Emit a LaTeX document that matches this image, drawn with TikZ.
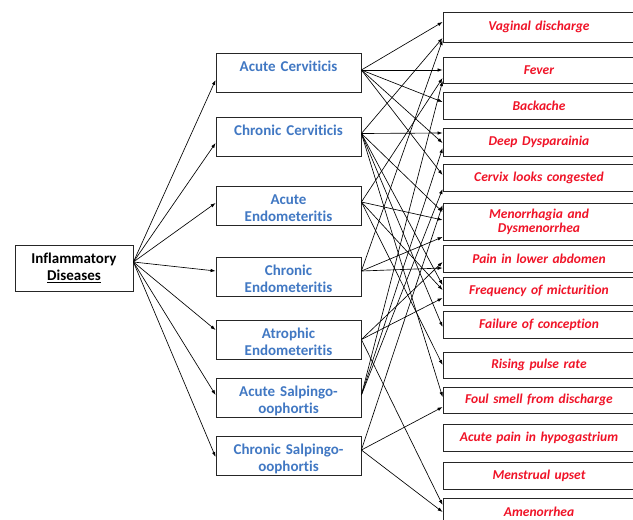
\documentclass[tikz,border=0pt]{standalone}
\usepackage{fontspec}
\setmainfont{Carlito}[Ligatures=NoCommon]
\usetikzlibrary{arrows.meta}
\definecolor{diseaseblue}{RGB}{65,120,195}
\definecolor{symptomred}{RGB}{240,20,40}
\begin{document}
\begin{tikzpicture}[x=1pt,y=-1pt,
  rootbox/.style={draw=black!85, line width=0.8pt, text width=118pt, align=center, inner sep=0pt, minimum height=46pt, font=\fontsize{15}{17}\selectfont\bfseries},
  diseasebox/.style={draw=black!85, line width=0.8pt, text width=145pt, align=center, inner sep=0pt, text height=18pt, text depth=21pt, text=diseaseblue, font=\fontsize{15}{17}\selectfont\bfseries},
  symptombox/.style={draw=black!85, line width=0.8pt, text width=192pt, align=center, inner sep=0pt, text=symptomred, font=\fontsize{13.5}{14}\selectfont\bfseries\itshape},
  conn/.style={-{Latex[length=5pt,width=3.5pt]}, line width=0.65pt}]
\path[use as bounding box, fill=white] (0,0) rectangle (633,520);
\node[rootbox] (id) at (74,268) {Inflammatory\\\underline{Diseases}};
\node[diseasebox] (acerv) at (288.5,73) {Acute Cerviticis};
\node[diseasebox] (ccerv) at (288.5,136.5) {Chronic Cerviticis};
\node[diseasebox] (aendo) at (288.5,205.5) {Acute\\Endometeritis};
\node[diseasebox] (cendo) at (288.5,276.5) {Chronic\\Endometeritis};
\node[diseasebox] (trendo) at (288.5,339.5) {Atrophic\\Endometeritis};
\node[diseasebox] (asalp) at (288.5,397.5) {Acute Salpingo-\\oophortis};
\node[diseasebox] (csalp) at (288.5,456) {Chronic Salpingo-\\oophortis};
\node[symptombox, minimum height=30pt] (vag) at (539,27) {Vaginal discharge};
\node[symptombox, minimum height=26pt] (fev) at (539,70) {Fever};
\node[symptombox, minimum height=27pt] (back) at (539,105.5) {Backache};
\node[symptombox, minimum height=28pt] (deep) at (539,142) {Deep Dysparainia};
\node[symptombox, minimum height=27pt] (cerv) at (539,177.5) {Cervix looks congested};
\node[symptombox, minimum height=37pt] (menor) at (539,221.5) {Menorrhagia and\\Dysmenorrhea};
\node[symptombox, minimum height=27pt] (pain) at (539,258.5) {Pain in lower abdomen};
\node[symptombox, minimum height=28pt] (freq) at (539,291) {Frequency of micturition};
\node[symptombox, minimum height=27pt] (fail) at (539,324.5) {Failure of conception};
\node[symptombox, minimum height=26pt] (rise) at (539,365) {Rising pulse rate};
\node[symptombox, minimum height=26pt] (foul) at (539,400) {Foul smell from discharge};
\node[symptombox, minimum height=27pt] (hypo) at (539,437.5) {Acute pain in hypogastrium};
\node[symptombox, minimum height=27pt] (mens) at (539,475.5) {Menstrual upset};
\node[symptombox, minimum height=27pt] (amen) at (539,511.5) {Amenorrhea};
\draw[conn] ([yshift=6pt]id.east) -- ([yshift=-7pt]acerv.west);
\draw[conn] ([yshift=6pt]id.east) -- ([yshift=-6.5pt]ccerv.west);
\draw[conn] ([yshift=6pt]id.east) -- ([yshift=2.5pt]aendo.west);
\draw[conn] ([yshift=6pt]id.east) -- ([yshift=5.5pt]cendo.west);
\draw[conn] ([yshift=6pt]id.east) -- ([yshift=9.5pt]trendo.west);
\draw[conn] ([yshift=6pt]id.east) -- ([yshift=2.5pt]asalp.west);
\draw[conn] ([yshift=6pt]id.east) -- ([yshift=-1pt]csalp.west);
\draw[conn] ([yshift=3pt]acerv.east) -- ([yshift=5pt]vag.west);
\draw[conn] ([yshift=3pt]acerv.east) -- (fev.west);
\draw[conn] ([yshift=3pt]acerv.east) -- ([yshift=3.5pt]back.west);
\draw[conn] ([yshift=3pt]acerv.east) -- ([yshift=-1pt]deep.west);
\draw[conn] ([yshift=3pt]acerv.east) -- ([yshift=2.5pt]cerv.west);
\draw[conn] ([yshift=3pt]ccerv.east) -- ([yshift=-11pt]vag.west);
\draw[conn] ([yshift=3pt]ccerv.east) -- ([yshift=9pt]deep.west);
\draw[conn] ([yshift=3pt]ccerv.east) -- ([yshift=9.5pt]menor.west);
\draw[conn] ([yshift=3pt]ccerv.east) -- ([yshift=6pt]freq.west);
\draw[conn] ([yshift=3pt]ccerv.east) -- ([yshift=-2.5pt]fail.west);
\draw[conn] ([yshift=3pt]ccerv.east) -- ([yshift=3pt]foul.west);
\draw[conn] ([yshift=3.5pt]aendo.east) -- ([yshift=-8pt]fev.west);
\draw[conn] ([yshift=3.5pt]aendo.east) -- ([yshift=1.5pt]menor.west);
\draw[conn] ([yshift=3.5pt]aendo.east) -- ([yshift=1pt]freq.west);
\draw[conn] ([yshift=3.5pt]aendo.east) -- (rise.west);
\draw[conn] ([yshift=5.5pt]cendo.east) -- ([yshift=-13pt]vag.west);
\draw[conn] ([yshift=5.5pt]cendo.east) -- ([yshift=-15.5pt]menor.west);
\draw[conn] ([yshift=5.5pt]cendo.east) -- ([yshift=-9.5pt]pain.west);
\draw[conn] (trendo.east) -- ([yshift=-3.5pt]pain.west);
\draw[conn] (trendo.east) -- ([yshift=-7pt]freq.west);
\draw[conn] (trendo.east) -- ([yshift=6.5pt]amen.west);
\draw[conn] ([yshift=2.5pt]asalp.east) -- ([yshift=-11pt]fev.west);
\draw[conn] ([yshift=2.5pt]asalp.east) -- ([yshift=-6pt]deep.west);
\draw[conn] ([yshift=2.5pt]asalp.east) -- ([yshift=-11.5pt]cerv.west);
\draw[conn] ([yshift=6pt]csalp.east) -- ([yshift=16.5pt]menor.west);
\draw[conn] ([yshift=6pt]csalp.east) -- ([yshift=-7pt]foul.west);
\draw[conn] ([yshift=6pt]csalp.east) -- ([yshift=-0.5pt]amen.west);
\end{tikzpicture}
\end{document}
